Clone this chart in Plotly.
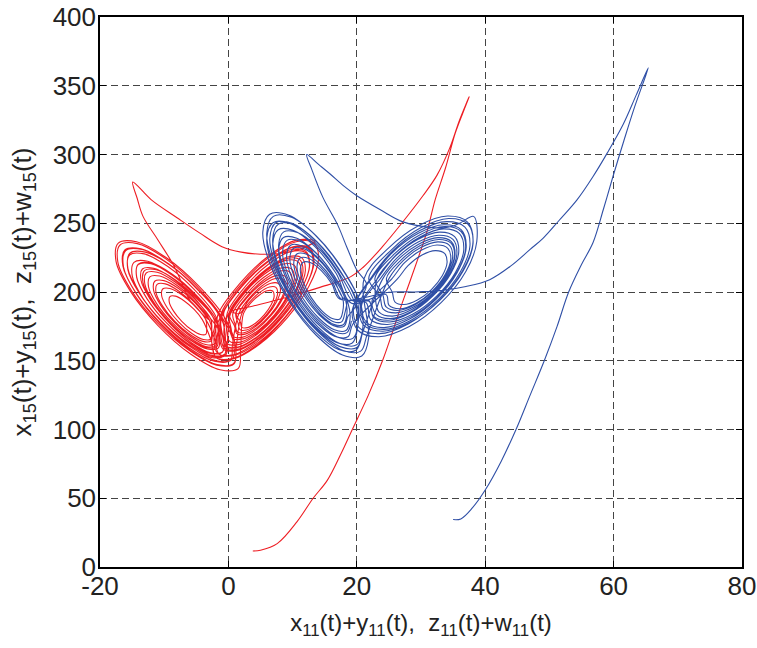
import plotly.graph_objects as go

# red trajectory, pieces in time order
red_rise_x = [3.8, 5.0, 7.6, 10.7, 13.2, 15.4, 17.5, 19.3, 21.8, 24.0, 25.5, 26.7, 28.3, 29.8, 31.0, 32.2, 33.8, 35.3, 36.5, 37.5,
              36.0, 34.5, 32.5, 30.3, 27.0, 24.0, 21.0, 19.0, 14.0, 9.0, 4.0, 0.5]
red_rise_y = [11.6, 12.2, 17.0, 33.0, 50.0, 63.0, 82.0, 100.0, 125.0, 150.0, 170.0, 187.0, 208.0, 228.0, 245.0, 267.0, 290.0, 315.0, 330.0, 342.0,
              325.0, 305.0, 285.0, 270.0, 250.0, 233.0, 218.0, 211.0, 203.0, 196.0, 190.0, 186.0]

red_right_a_x = [1.72, 3.12, 4.92, 6.63, 7.8, 8.11, 7.48, 6.08, 4.28, 2.57, 1.4, 1.09,
                 0.68, 2.78, 5.48, 8.05, 9.8, 10.27, 9.32, 7.22, 4.52, 1.95, 0.2, -0.27,
                 -0.16, 2.64, 6.24, 9.66, 12.0, 12.62, 11.36, 8.56, 4.96, 1.54, -0.8, -1.42,
                 -1.7, 1.8, 6.3, 10.58, 13.5]
red_right_a_y = [184.3, 193.8, 201.9, 206.4, 206.1, 201.1, 192.7, 183.2, 175.1, 170.6, 170.9, 175.9,
                 184.1, 198.4, 210.5, 217.3, 216.9, 209.4, 196.9, 182.6, 170.5, 163.7, 164.1, 171.6,
                 185.0, 204.1, 220.2, 229.3, 228.7, 218.7, 202.0, 182.9, 166.8, 157.7, 158.3, 168.3,
                 182.4, 206.2, 226.4, 237.7, 237.0]

red_cusp_x = [11.0, 8.0, 5.0, 2.0, -1.0, -4.5, -8.0, -12.0, -14.9, -14.2, -13.3, -11.0, -8.6, -7.2, -6.0]
red_cusp_y = [231.0, 228.0, 227.5, 229.0, 233.0, 243.0, 254.0, 267.0, 280.0, 268.0, 255.0, 238.0, 220.0, 206.0, 194.0]

red_left_a_x = [-3.07, -5.2, -7.76, -10.05, -11.48, -11.65, -10.53, -8.4, -5.84, -3.55, -2.12, -1.95,
                -2.28, -5.26, -8.84, -12.05, -14.05, -14.29, -12.72, -9.74, -6.16, -2.95, -0.95, -0.71,
                -0.89, -4.72, -9.32, -13.45, -16.02, -16.33, -14.31, -10.48, -5.88, -1.75, 0.82, 1.13,
                -0.35, -4.6, -9.71, -14.3, -17.15, -17.5, -15.25, -11.0, -5.89, -1.3, 1.55, 1.9]
red_left_a_y = [179.8, 192.1, 202.5, 208.3, 207.8, 201.2, 190.2, 177.9, 167.5, 161.8, 162.3, 168.9,
                180.7, 197.9, 212.5, 220.6, 219.9, 210.6, 195.3, 178.1, 163.5, 155.5, 156.2, 165.4,
                179.6, 201.8, 220.5, 230.9, 230.0, 218.1, 198.4, 176.2, 157.5, 147.2, 148.0, 159.9,
                179.55, 204.2, 225.05, 236.5, 235.5, 222.3, 200.45, 175.8, 154.95, 143.5, 144.5, 157.7]

red_right_b_x = [2.34, 3.39, 4.74, 6.02, 6.9, 7.13, 6.66, 5.61, 4.26, 2.98, 2.1, 1.87,
                 1.2, 2.95, 5.2, 7.34, 8.8, 9.19, 8.4, 6.65, 4.4, 2.26, 0.8, 0.41,
                 0.16, 2.61, 5.76, 8.76, 10.8, 11.35, 10.24, 7.79, 4.64, 1.64, -0.4, -0.95,
                 -1.14, 2.18, 6.46, 10.53, 13.3, 14.04, 12.54, 9.22, 4.94, 0.87, -1.9, -2.64]
red_right_b_y = [184.3, 191.5, 197.5, 200.9, 200.7, 197.0, 190.7, 183.5, 177.5, 174.1, 174.3, 178.1,
                 184.2, 196.1, 206.2, 211.9, 211.5, 205.3, 194.8, 182.9, 172.8, 167.2, 167.5, 173.8,
                 184.1, 200.7, 214.9, 222.8, 222.3, 213.6, 198.9, 182.3, 168.1, 160.2, 160.7, 169.5,
                 183.9, 206.5, 225.7, 236.5, 235.8, 223.9, 204.1, 181.5, 162.3, 151.5, 152.2, 164.1]

red_left_b_x = [-4.06, -5.34, -6.87, -8.25, -9.11, -9.21, -8.54, -7.26, -5.73, -4.35, -3.49, -3.39,
                -3.52, -5.22, -7.26, -9.1, -10.24, -10.38, -9.48, -7.78, -5.74, -3.9, -2.76, -2.62,
                -2.73, -5.28, -8.35, -11.1, -12.81, -13.02, -11.67, -9.12, -6.05, -3.3, -1.59, -1.38,
                -1.94, -5.34, -9.43, -13.1, -15.38, -15.66, -13.86, -10.46, -6.37, -2.7, -0.42, -0.14]
red_left_b_y = [179.9, 187.3, 193.5, 197.0, 196.7, 192.7, 186.1, 178.7, 172.5, 169.1, 169.4, 173.3,
                179.8, 189.7, 198.0, 202.6, 202.2, 196.9, 188.2, 178.3, 170.0, 165.4, 165.8, 171.1,
                180.2, 195.0, 207.5, 214.4, 213.8, 205.9, 192.8, 178.0, 165.5, 158.6, 159.2, 167.1,
                182.1, 201.9, 218.5, 227.7, 226.9, 216.3, 198.9, 179.1, 162.5, 153.3, 154.1, 164.7]

red_right_c_x = [0.32, 2.59, 5.52, 8.3, 10.2, 10.71, 9.68, 7.41, 4.48, 1.7, -0.2, -0.71,
                 0.0, 2.62, 6.0, 9.21, 11.4, 11.99, 10.8, 8.18, 4.8, 1.59, -0.6, -1.19,
                 -0.92, 2.05, 5.88, 9.52, 12.0, 12.66, 11.32, 8.35, 4.52, 0.88, -1.6, -2.26,
                 -1.18, 1.97, 6.02, 9.87, 12.5, 13.2, 11.78, 8.63, 4.58, 0.73, -1.9, -2.6]
red_right_c_y = [184.1, 199.6, 212.7, 220.1, 219.6, 211.5, 197.9, 182.4, 169.3, 161.9, 162.4, 170.5,
                 184.0, 201.9, 217.0, 225.5, 225.0, 215.6, 199.9, 182.1, 166.9, 158.5, 159.0, 168.4,
                 183.5, 203.7, 220.9, 230.5, 229.9, 219.3, 201.5, 181.3, 164.1, 154.5, 155.1, 165.7,
                 182.5, 203.9, 222.1, 232.2, 231.6, 220.4, 201.5, 180.1, 161.9, 151.8, 152.4, 163.7]

red_left_c_x = [-2.16, -4.92, -8.24, -11.23, -13.08, -13.31, -11.84, -9.08, -5.76, -2.77, -0.92, -0.69,
                -2.11, -5.3, -9.13, -12.58, -14.71, -14.98, -13.29, -10.1, -6.27, -2.82, -0.69, -0.42,
                -1.07, -4.68, -9.02, -12.93, -15.35, -15.65, -13.73, -10.12, -5.78, -1.87, 0.55, 0.85,
                -0.92, -4.96, -9.81, -14.18, -16.88, -17.22, -15.08, -11.04, -6.19, -1.82, 0.88, 1.22]
red_left_c_y = [179.2, 195.2, 208.8, 216.2, 215.6, 207.0, 192.8, 176.8, 163.2, 155.8, 156.4, 165.0,
                179.7, 198.2, 213.8, 222.4, 221.6, 211.7, 195.3, 176.9, 161.2, 152.6, 153.4, 163.3,
                180.6, 201.6, 219.3, 229.0, 228.2, 217.0, 198.4, 177.4, 159.7, 150.0, 150.8, 162.0,
                181.1, 204.5, 224.3, 235.2, 234.2, 221.7, 200.9, 177.5, 157.7, 146.8, 147.8, 160.3]

red_right_d_x = [2.08, 3.3, 4.88, 6.38, 7.4, 7.67, 7.12, 5.9, 4.32, 2.82, 1.8, 1.53,
                 1.14, 3.06, 5.54, 7.89, 9.5, 9.93, 9.06, 7.14, 4.66, 2.31, 0.7, 0.27,
                 -0.74, 2.34, 6.3, 10.07, 12.64, 13.33, 11.94, 8.86, 4.9, 1.13, -1.44, -2.13]
red_right_d_y = [184.29, 192.62, 199.69, 203.65, 203.4, 199.03, 191.71, 183.38, 176.31, 172.35, 172.6, 176.97,
                 184.67, 197.76, 208.87, 215.09, 214.7, 207.83, 196.33, 183.24, 172.13, 165.91, 166.3, 173.17,
                 184.17, 205.12, 222.89, 232.84, 232.22, 221.22, 202.83, 181.88, 164.11, 154.16, 154.78, 165.78]

red_left_d_x = [-3.55, -5.46, -7.76, -9.83, -11.11, -11.27, -10.25, -8.34, -6.04, -3.97, -2.69, -2.53,
                -3.0, -5.34, -8.15, -10.68, -12.24, -12.44, -11.2, -8.86, -6.05, -3.52, -1.96, -1.76,
                -1.34, -5.08, -9.58, -13.62, -16.13, -16.44, -14.46, -10.72, -6.22, -2.18, 0.33, 0.64]
red_left_d_y = [180.3, 191.39, 200.77, 205.93, 205.48, 199.54, 189.7, 178.61, 169.23, 164.07, 164.52, 170.46,
                180.25, 193.81, 205.28, 211.58, 211.03, 203.77, 191.75, 178.19, 166.72, 160.42, 160.97, 168.23,
                181.3, 203.0, 221.34, 231.42, 230.54, 218.92, 199.7, 178.0, 159.66, 149.58, 150.46, 162.08]

red_right_e_x = [1.66, 3.23, 5.26, 7.19, 8.5, 8.85, 8.14, 6.57, 4.54, 2.61, 1.3, 0.95,
                 0.12, 2.64, 5.88, 8.96, 11.06, 11.62, 10.48, 7.96, 4.72, 1.64, -0.46, -1.02]
red_right_e_y = [184.73, 195.44, 204.53, 209.62, 209.3, 203.68, 194.27, 183.56, 174.47, 169.38, 169.7, 175.32,
                 184.37, 201.5, 216.05, 224.18, 223.68, 214.68, 199.63, 182.5, 167.95, 159.82, 160.32, 169.32]

red_left_e_x = [-2.98, -5.62, -8.78, -11.63, -13.4, -13.61, -12.22, -9.58, -6.42, -3.57, -1.8, -1.59,
                -1.94, -5.0, -8.68, -11.98, -14.03, -14.28, -12.66, -9.6, -5.92, -2.62, -0.57, -0.32]
red_left_e_y = [182.02, 197.3, 210.23, 217.33, 216.71, 208.53, 194.98, 179.7, 166.77, 159.67, 160.29, 168.47,
                179.98, 197.72, 212.74, 220.98, 220.26, 210.76, 195.02, 177.28, 162.26, 154.02, 154.74, 164.24]

# blue trajectory, pieces in time order
blue_rise_x = [35.0, 36.2, 38.0, 40.0, 42.5, 44.8, 47.0, 49.2, 51.2, 53.0, 55.0, 56.8, 58.4, 59.9, 61.6, 63.3, 65.4,
               63.5, 61.5, 59.0, 56.8, 54.3, 51.5, 49.0, 47.0, 44.0, 40.7, 37.0, 33.0, 29.0, 25.5]
blue_rise_y = [34.5, 35.0, 43.0, 56.0, 77.0, 100.0, 125.0, 150.0, 175.0, 200.0, 220.0, 236.0, 260.0, 284.0, 310.0, 335.0, 363.0,
               343.0, 322.0, 301.0, 284.0, 267.0, 252.0, 239.0, 231.0, 219.0, 209.0, 204.0, 201.0, 200.0, 200.0]

blue_left_a_x = [17.34, 16.12, 14.47, 12.83, 11.63, 11.2, 11.66, 12.88, 14.53, 16.17, 17.37, 17.8,
                 17.85, 16.33, 14.26, 12.21, 10.71, 10.18, 10.75, 12.27, 14.34, 16.39, 17.89, 18.42,
                 18.26, 16.43, 13.95, 11.49, 9.7, 9.06, 9.74, 11.57, 14.05, 16.51, 18.3, 18.94,
                 18.57, 16.44, 13.54, 10.67, 8.58, 7.83, 8.63, 10.76, 13.66, 16.53, 18.62, 19.37]
blue_left_a_y = [194.9, 205.9, 215.6, 221.3, 221.6, 216.4, 207.1, 196.1, 186.4, 180.7, 180.4, 185.6,
                 194.4, 208.2, 220.2, 227.4, 227.8, 221.3, 209.6, 195.9, 183.8, 176.6, 176.2, 182.7,
                 193.9, 210.4, 224.9, 233.5, 234.0, 226.1, 212.1, 195.6, 181.1, 172.5, 172.0, 179.9,
                 192.9, 212.1, 229.0, 239.1, 239.6, 230.5, 214.1, 194.9, 178.0, 167.9, 167.4, 176.5]

blue_right_a_x = [26.29, 27.98, 30.16, 32.24, 33.67, 34.06, 33.31, 31.62, 29.44, 27.36, 25.93, 25.54,
                  24.61, 26.92, 29.89, 32.73, 34.68, 35.21, 34.19, 31.88, 28.91, 26.07, 24.12, 23.59,
                  21.86, 25.4, 29.95, 34.31, 37.3, 38.11, 36.54, 33.0, 28.45, 24.09, 21.1, 20.29]
blue_right_a_y = [209.3, 219.2, 226.9, 230.1, 228.1, 221.4, 211.8, 201.8, 194.2, 190.9, 192.9, 199.6,
                  209.8, 223.4, 233.8, 238.2, 235.5, 226.3, 213.2, 199.6, 189.2, 184.8, 187.5, 196.7,
                  209.9, 230.7, 246.7, 253.5, 249.3, 235.3, 215.1, 194.3, 178.3, 171.5, 175.7, 189.7]

blue_cusp_x = [21.0, 21.5, 20.0, 18.5, 17.0, 14.7, 13.0, 12.2, 14.0, 15.8, 18.0, 20.0, 23.6, 27.2, 31.4, 34.0, 36.0, 38.2]
blue_cusp_y = [198.0, 206.0, 216.0, 232.0, 249.0, 269.0, 289.0, 300.0, 293.0, 286.0, 277.0, 270.0, 260.0, 251.0, 247.0, 247.0, 250.0, 255.0]

blue_right_b_x = [38.69, 36.98, 33.13, 28.18, 23.45, 20.2, 19.31,
                  22.2, 25.43, 29.59, 33.56, 36.29, 37.04, 35.6, 32.37, 28.21, 24.24, 21.51, 20.76,
                  23.57, 26.19, 29.56, 32.77, 34.98, 35.59, 34.43, 31.81, 28.44, 25.23, 23.02, 22.41,
                  25.45, 27.45, 30.03, 32.49, 34.18, 34.64, 33.75, 31.75, 29.17, 26.71, 25.02, 24.56]
blue_right_b_y = [236.74, 214.85, 192.2, 174.85, 167.46, 172.0, 187.26,
                  209.1, 228.1, 242.7, 248.9, 245.1, 232.3, 213.9, 194.9, 180.3, 174.1, 177.9, 190.7,
                  209.1, 224.5, 236.3, 241.3, 238.2, 227.8, 212.9, 197.5, 185.7, 180.7, 183.8, 194.2,
                  209.5, 221.3, 230.3, 234.2, 231.8, 223.9, 212.5, 200.7, 191.7, 187.8, 190.2, 198.1]

blue_left_b_x = [19.18, 16.74, 13.44, 10.16, 7.76, 6.91, 7.82, 10.26, 13.56, 16.84, 19.24, 20.09,
                 19.79, 17.05, 13.33, 9.64, 6.95, 5.98, 7.01, 9.75, 13.47, 17.16, 19.85, 20.82,
                 20.7, 17.65, 13.52, 9.42, 6.43, 5.36, 6.5, 9.55, 13.68, 17.78, 20.77, 21.84]
blue_left_b_y = [191.9, 213.8, 233.2, 244.7, 245.3, 234.8, 216.1, 194.2, 174.8, 163.3, 162.7, 173.2,
                 190.4, 215.1, 236.8, 249.8, 250.4, 238.7, 217.6, 192.9, 171.2, 158.2, 157.6, 169.3,
                 189.85, 217.3, 241.45, 255.84, 256.6, 243.54, 220.15, 192.7, 168.55, 154.16, 153.4, 166.46]

blue_right_c_x = [21.14, 24.84, 29.59, 34.13, 37.25, 38.1, 36.46, 32.76, 28.01, 23.47, 20.35, 19.5,
                  22.08, 25.47, 29.82, 33.98, 36.84, 37.63, 36.12, 32.73, 28.38, 24.22, 21.36, 20.57,
                  23.24, 26.16, 29.92, 33.52, 35.99, 36.66, 35.36, 32.44, 28.68, 25.08, 22.61, 21.94]
blue_right_c_y = [209.8, 231.5, 248.2, 255.3, 250.9, 236.3, 215.2, 193.5, 176.8, 169.7, 174.1, 188.8,
                  209.5, 229.4, 244.7, 251.2, 247.2, 233.8, 214.5, 194.6, 179.3, 172.8, 176.8, 190.2,
                  209.8, 227.1, 240.2, 245.9, 242.4, 230.8, 214.2, 197.0, 183.8, 178.2, 181.6, 193.2]

blue_left_c_x = [19.33, 17.04, 13.94, 10.86, 8.62, 7.82, 8.67, 10.96, 14.06, 17.14, 19.38, 20.18,
                 19.94, 17.34, 13.83, 10.35, 7.81, 6.9, 7.86, 10.46, 13.97, 17.45, 19.99, 20.9,
                 20.55, 17.65, 13.72, 9.83, 6.99, 5.97, 7.05, 9.95, 13.88, 17.77, 20.61, 21.63]
blue_left_c_y = [193.6, 214.2, 232.3, 243.1, 243.7, 233.9, 216.4, 195.8, 177.7, 166.9, 166.3, 176.1,
                 192.6, 216.0, 236.5, 248.7, 249.4, 238.3, 218.4, 195.0, 174.5, 162.3, 161.6, 172.7,
                 191.6, 217.7, 240.6, 254.3, 255.0, 242.6, 220.4, 194.3, 171.4, 157.7, 157.0, 169.4]

blue_right_d_x = [25.03, 27.19, 29.96, 32.61, 34.43, 34.93, 33.97, 31.81, 29.04, 26.39, 24.57, 24.07,
                  22.82, 25.9, 29.86, 33.64, 36.24, 36.95, 35.58, 32.5, 28.54, 24.76, 22.16, 21.45]
blue_right_d_y = [209.9, 222.59, 232.3, 236.44, 233.9, 225.35, 213.1, 200.41, 190.7, 186.56, 189.1, 197.65,
                  209.72, 227.84, 241.72, 247.63, 244.0, 231.79, 214.28, 196.16, 182.28, 176.37, 180.0, 192.21]

blue_left_d_x = [18.01, 16.33, 14.06, 11.8, 10.16, 9.57, 10.19, 11.87, 14.14, 16.4, 18.04, 18.63,
                 19.95, 17.26, 13.63, 10.02, 7.39, 6.45, 7.45, 10.14, 13.77, 17.38, 20.01, 20.95]
blue_left_d_y = [195.17, 210.27, 223.55, 231.46, 231.88, 224.7, 211.83, 196.73, 183.45, 175.54, 175.12, 182.3,
                 191.67, 215.82, 237.08, 249.74, 250.41, 238.92, 218.33, 194.18, 172.92, 160.26, 159.59, 171.08]

blue_right_e_x = [23.99, 26.46, 29.62, 32.65, 34.73, 35.3, 34.21, 31.74, 28.58, 25.55, 23.47, 22.9,
                  23.15, 25.93, 29.49, 32.9, 35.24, 35.88, 34.65, 31.87, 28.31, 24.9, 22.56, 21.92]
blue_right_e_y = [209.18, 223.67, 234.78, 239.51, 236.6, 226.83, 212.82, 198.33, 187.22, 182.49, 185.4, 195.17,
                  209.45, 225.76, 238.25, 243.57, 240.3, 229.31, 213.55, 197.24, 184.75, 179.43, 182.7, 193.69]

blue_left_e_x = [17.6, 16.22, 14.36, 12.52, 11.17, 10.69, 11.2, 12.58, 14.44, 16.28, 17.63, 18.11,
                 18.42, 16.43, 13.75, 11.08, 9.14, 8.44, 9.18, 11.17, 13.85, 16.52, 18.46, 19.16]
blue_left_e_y = [194.68, 207.04, 217.9, 224.38, 224.72, 218.84, 208.32, 195.96, 185.1, 178.62, 178.28, 184.16,
                 194.15, 212.0, 227.69, 237.05, 237.54, 229.05, 213.85, 196.0, 180.31, 170.95, 170.46, 178.95]

x_ticks = [-20, 0, 20, 40, 60, 80]
x_ticktext = ['-20', '0', '20', '40', '60', '80']
y_ticks = [0, 50, 100, 150, 200, 250, 300, 350, 400]

red_x = (red_rise_x + red_right_a_x + red_cusp_x + red_left_a_x + red_right_b_x + red_left_b_x
         + red_right_c_x + red_left_c_x + red_right_d_x + red_left_d_x + red_right_e_x + red_left_e_x)
red_y = (red_rise_y + red_right_a_y + red_cusp_y + red_left_a_y + red_right_b_y + red_left_b_y
         + red_right_c_y + red_left_c_y + red_right_d_y + red_left_d_y + red_right_e_y + red_left_e_y)
blue_x = (blue_rise_x + blue_left_a_x + blue_right_a_x + blue_cusp_x + blue_right_b_x + blue_left_b_x
          + blue_right_c_x + blue_left_c_x + blue_right_d_x + blue_left_d_x + blue_right_e_x + blue_left_e_x)
blue_y = (blue_rise_y + blue_left_a_y + blue_right_a_y + blue_cusp_y + blue_right_b_y + blue_left_b_y
          + blue_right_c_y + blue_left_c_y + blue_right_d_y + blue_left_d_y + blue_right_e_y + blue_left_e_y)

fig = go.Figure()
fig.add_trace(go.Scatter(x=red_x, y=red_y, mode='lines',
                         line=dict(color='#ee1d23', width=1.1, shape='spline', smoothing=1)))
fig.add_trace(go.Scatter(x=blue_x, y=blue_y, mode='lines',
                         line=dict(color='#2f4fa6', width=1.1, shape='spline', smoothing=1)))

axis_style = dict(showline=True, linecolor='black', linewidth=1.5, mirror='allticks',
                  ticks='inside', ticklen=6, tickcolor='black', automargin=False,
                  ticklabeloverflow='allow',
                  showgrid=True, gridcolor='#444444', gridwidth=1, griddash='7px,4px',
                  zeroline=False, tickfont=dict(size=26, color='#222222'))

fig.update_layout(
    width=757, height=648,
    margin=dict(l=100, r=15, t=17, b=81),
    plot_bgcolor='white', paper_bgcolor='white',
    showlegend=False,
    font=dict(family='Liberation Sans, Arial, sans-serif', size=24, color='#222222'),
    xaxis=dict(range=[-20, 80], tickvals=x_ticks, ticktext=x_ticktext, ticklabelstandoff=-5,
               title=dict(text='x<sub>11</sub>(t)+y<sub>11</sub>(t), &nbsp;z<sub>11</sub>(t)+w<sub>11</sub>(t)',
                          font=dict(size=24), standoff=14),
               **axis_style),
    yaxis=dict(range=[0, 400], tickvals=y_ticks, ticklabelstandoff=-3,
               title=dict(text='x<sub>15</sub>(t)+y<sub>15</sub>(t), &nbsp;z<sub>15</sub>(t)+w<sub>15</sub>(t)',
                          font=dict(size=26), standoff=14),
               **axis_style),
)

# drop the page's default 8px body margin so the figure fills the window
fig.write_html("out.html", config={'displayModeBar': False},
               post_script="document.body.style.margin='0px';")
